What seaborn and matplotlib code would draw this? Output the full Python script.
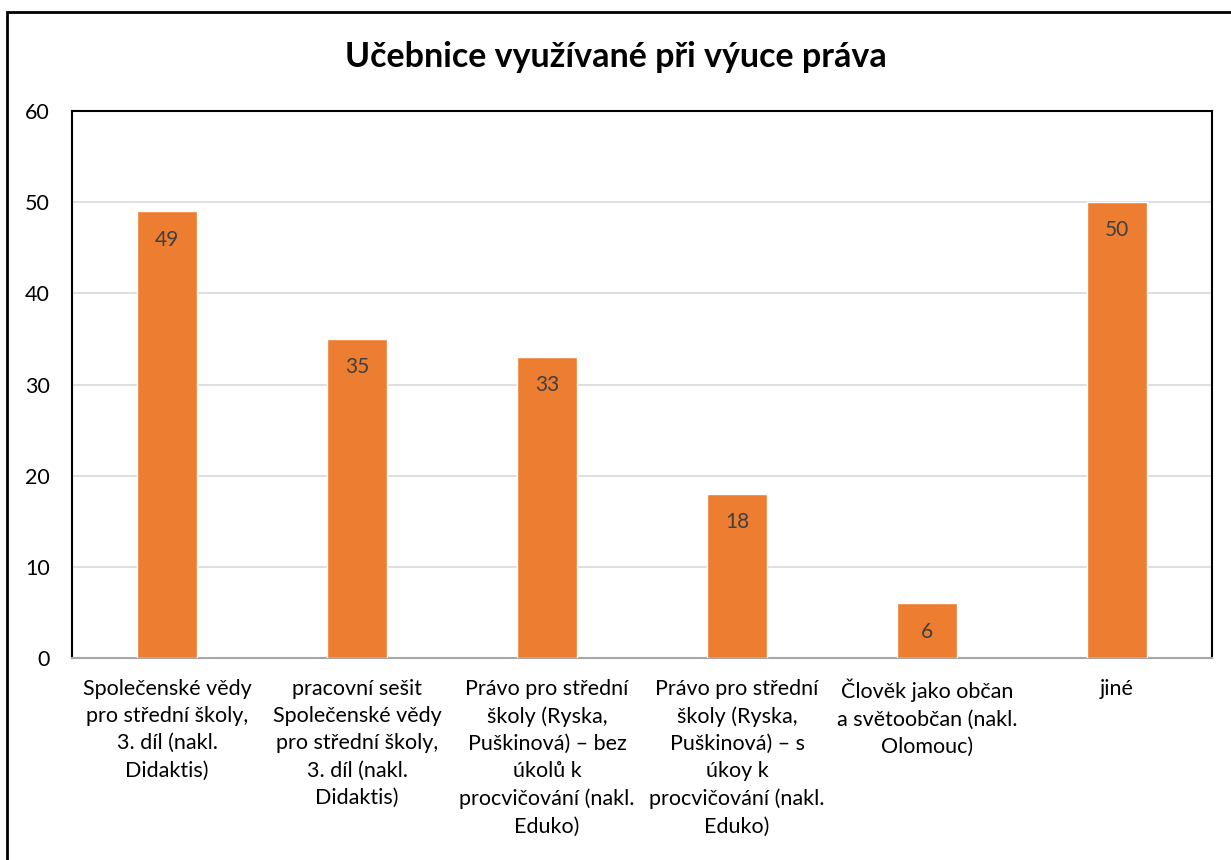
import matplotlib
matplotlib.use("Agg")
import matplotlib.pyplot as plt
import seaborn as sns
import pandas as pd
from matplotlib.patches import Rectangle

# data
categories = [
    "Společenské vědy\npro střední školy,\n3. díl (nakl.\nDidaktis)",
    "pracovní sešit\nSpolečenské vědy\npro střední školy,\n3. díl (nakl.\nDidaktis)",
    "Právo pro střední\nškoly (Ryska,\nPuškinová) – bez\núkolů k\nprocvičování (nakl.\nEduko)",
    "Právo pro střední\nškoly (Ryska,\nPuškinová) – s\núkoy k\nprocvičování (nakl.\nEduko)",
    "Člověk jako občan\na světoobčan (nakl.\nOlomouc)",
    "jiné",
]
counts = [49, 35, 33, 18, 6, 50]
title = "Učebnice využívané při výuce práva"

df = pd.DataFrame({"kategorie": categories, "pocet": counts})

sns.set_style("white")
plt.rcParams['font.family'] = ['Lato', 'DejaVu Sans']
plt.rcParams['text.color'] = 'black'

fig = plt.figure(figsize=(12.31, 8.6), dpi=100)
ax = fig.add_axes([0.0585, 0.2349, 0.9261, 0.636])

sns.barplot(data=df, x="kategorie", y="pocet", color="#ED7D31", saturation=1,
            width=0.316, ax=ax, zorder=3)

ax.set_ylim(0, 60)
ax.set_xlim(-0.5, 5.5)
ax.set_yticks(range(0, 61, 10))
ax.yaxis.grid(True, color="#D9D9D9", linewidth=1.2, zorder=0)
ax.set_axisbelow(True)
ax.set_xlabel("")
ax.set_ylabel("")
ax.tick_params(axis="both", length=0, labelsize=15.5, colors="black")
ax.tick_params(axis="y", pad=16)
ax.tick_params(axis="x", pad=15)
for lbl in ax.get_xticklabels():
    lbl.set_ha("center")
    lbl.set_multialignment("center")
    lbl.set_linespacing(1.45)

for s in ["left", "top", "right"]:
    ax.spines[s].set_color("black")
    ax.spines[s].set_linewidth(1.5)
ax.spines["bottom"].set_color("#A6A6A6")
ax.spines["bottom"].set_linewidth(1.5)

# data labels inside the top of the bars
for i, v in enumerate(counts):
    ax.text(i, v - 2.0, str(v), ha="center", va="top", fontsize=15, color="#404040", zorder=4)

fig.text(0.5, 0.934, title, ha="center", va="center", fontsize=24.5, fontweight="bold", color="black")

# outer border of the chart area
fig.patches.append(Rectangle((7 / 1231, -0.05), 1.2, 0.986 + 0.05, transform=fig.transFigure,
                             fill=False, edgecolor="black", linewidth=2))

fig.savefig("out.png", dpi=100)
